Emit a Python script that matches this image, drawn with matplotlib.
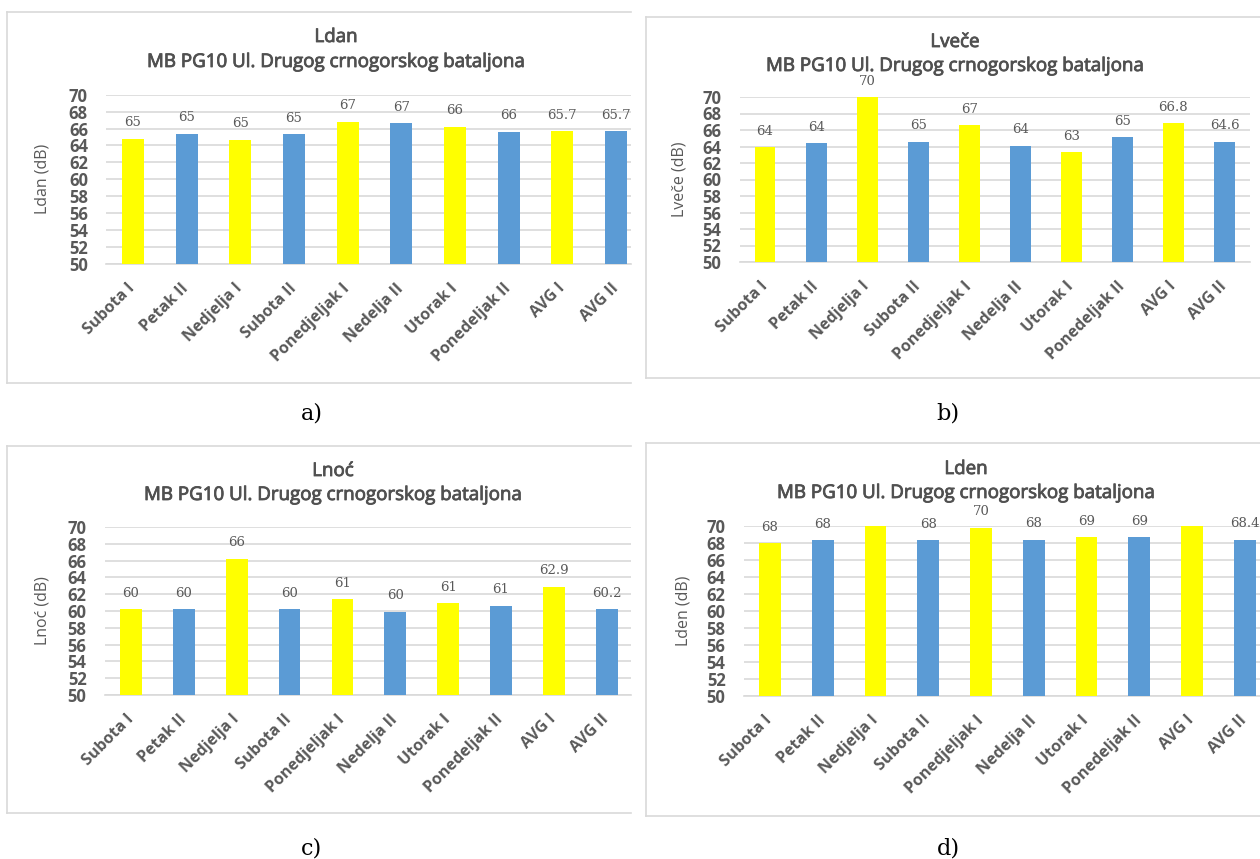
import matplotlib
matplotlib.use("Agg")
import matplotlib.pyplot as plt
import matplotlib.patheffects as pe
from matplotlib.lines import Line2D

categories = ["Subota I", "Petak II", "Nedjelja I", "Subota II", "Ponedjeljak I",
              "Nedelja II", "Utorak I", "Ponedeljak II", "AVG I", "AVG II"]

ldan = [64.8, 65.4, 64.7, 65.3, 66.8, 66.6, 66.2, 65.6, 65.7, 65.7]
lvece = [63.9, 64.4, 70.0, 64.6, 66.6, 64.1, 63.3, 65.1, 66.8, 64.6]
lnoc = [60.2, 60.2, 66.2, 60.2, 61.4, 59.9, 60.9, 60.6, 62.9, 60.2]
lden = [68.0, 68.3, 73.2, 68.3, 69.8, 68.4, 68.7, 68.7, 70.4, 68.4]

titles = ["Ldan", "Lveče", "Lnoć", "Lden"]
ylabels = ["Ldan (dB)", "Lveče (dB)", "Lnoć (dB)", "Lden (dB)"]
captions = ["a)", "b)", "c)", "d)"]
subtitle = "MB PG10 Ul. Drugog crnogorskog bataljona"

YELLOW = "#FFFF00"
BLUE = "#5B9BD5"
GRID = "#D9D9D9"
GREY = "#595959"

W, H = 1260, 859
fig = plt.figure(figsize=(W / 100, H / 100), dpi=100)
fig.patch.set_facecolor("white")

def fx(px):
    return px / W

def fy(py):
    return 1 - py / H

def hline(x0, x1, y):
    fig.add_artist(Line2D([fx(x0), fx(x1)], [fy(y), fy(y)], color=GRID, lw=1.2,
                          transform=fig.transFigure))

def vline(x, y0, y1):
    fig.add_artist(Line2D([fx(x), fx(x)], [fy(y0), fy(y1)], color=GRID, lw=1.2,
                          transform=fig.transFigure))

# panel layout in pixels: box (left, top, right, bottom), axes (left, right, top, bottom), xmax,
# title centre x, title y, subtitle y, ylabel x, caption position
panels = [
    dict(box=(7, 12, 631, 383), ax=(106, 631, 94.7, 264), xmax=9.28, tx=336, ty=37, sy=62,
         ylx=43, cpos=(312, 413)),
    dict(box=(646, 17, 1260, 378), ax=(739.5, 1250, 97, 262), xmax=9.5, tx=955, ty=42, sy=66,
         ylx=680, cpos=(948, 413)),
    dict(box=(7, 446, 631, 813), ax=(104.6, 631, 527, 695), xmax=9.46, tx=333, ty=471, sy=495,
         ylx=43, cpos=(312, 848)),
    dict(box=(646, 443, 1260, 816), ax=(743.6, 1260, 526, 696), xmax=9.29, tx=966, ty=469, sy=493,
         ylx=683, cpos=(948, 848)),
]

series = [ldan, lvece, lnoc, lden]
colors = [YELLOW if i % 2 == 0 else BLUE for i in range(len(categories))]
heavier = [pe.withStroke(linewidth=0.6, foreground="#505050")]

for p, vals, title, ylab, cap in zip(panels, series, titles, ylabels, captions):
    l, t, r, b = p["box"]
    hline(l, r, t)
    hline(l, r, b)
    vline(l, t, b)

    al, ar, at, ab = p["ax"]
    ax = fig.add_axes([fx(al), fy(ab), fx(ar) - fx(al), fy(at) - fy(ab)])
    x = list(range(len(categories)))
    ax.bar(x, [v - 50 for v in vals], bottom=50, width=0.41, color=colors, zorder=3)
    ax.set_xlim(-0.5, p["xmax"])
    ax.set_ylim(50, 70)
    ax.set_yticks(range(50, 71, 2))
    ax.grid(axis="y", color=GRID, lw=1.2, zorder=0)
    for s in ["top", "right", "left"]:
        ax.spines[s].set_visible(False)
    ax.spines["bottom"].set_color(GRID)
    ax.spines["bottom"].set_linewidth(1.2)
    ax.tick_params(axis="both", length=0)
    ax.tick_params(axis="y", pad=13)
    ax.tick_params(axis="x", pad=16)
    ax.set_xticks(x)
    ax.set_xticklabels(categories, rotation=45, ha="right", va="center",
                       rotation_mode="anchor", fontsize=11.5, fontweight="bold",
                       color=GREY, family="Open Sans")
    for lab in ax.get_yticklabels():
        lab.set_fontsize(12)
        lab.set_fontweight("bold")
        lab.set_color(GREY)
        lab.set_family("Open Sans")

    for i, v in enumerate(vals):
        if v > 70:
            continue
        txt = f"{v:.1f}" if categories[i].startswith("AVG") else f"{v:.0f}"
        ax.annotate(txt, (i, v), xytext=(0, 11.5), textcoords="offset points",
                    ha="center", va="center", fontsize=9.5, color=GREY,
                    family="DejaVu Serif", annotation_clip=False)

    fig.text(fx(p["ylx"]), fy((at + ab) / 2), ylab, rotation=90, ha="center", va="center",
             fontsize=11.5, color=GREY, family="Open Sans")
    fig.text(fx(p["tx"]), fy(p["ty"]), title, ha="center", va="center", fontsize=13.5,
             color="#505050", family="Open Sans", path_effects=heavier)
    fig.text(fx(p["tx"]), fy(p["sy"]), subtitle, ha="center", va="center", fontsize=13.5,
             color="#505050", family="Open Sans", path_effects=heavier)
    cx, cy = p["cpos"]
    fig.text(fx(cx), fy(cy), cap, ha="center", va="center", fontsize=16,
             color="black", family="DejaVu Serif")

fig.savefig("out.png", dpi=100)
